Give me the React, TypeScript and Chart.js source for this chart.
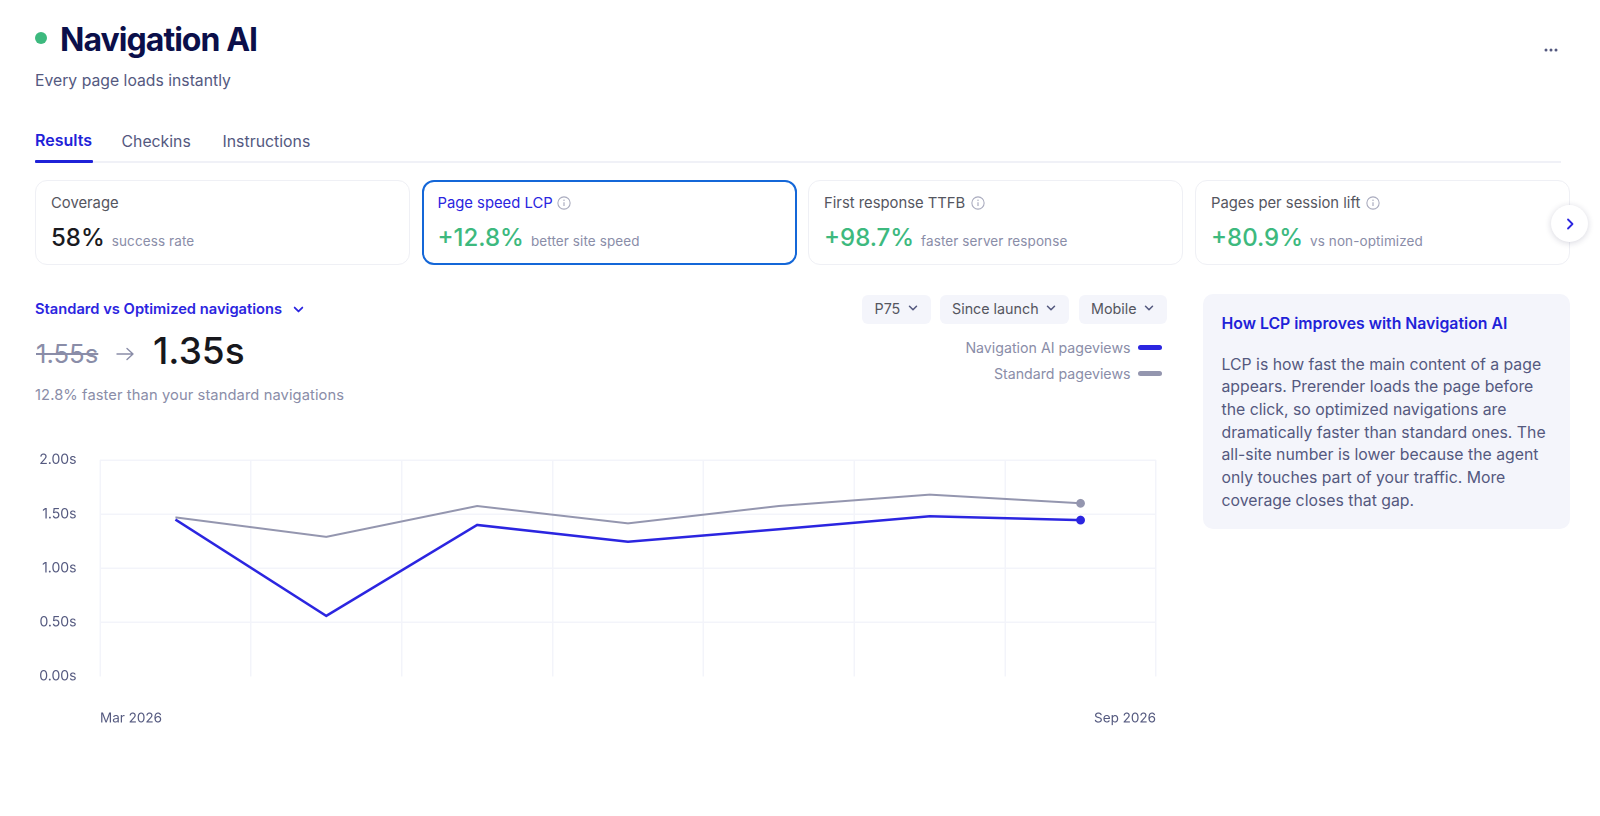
import React, { useEffect, useRef } from "react";
import { Chart, registerables } from "chart.js";

Chart.register(...registerables);

const categories = ["Mar 2026", "Apr 2026", "May 2026", "Jun 2026", "Jul 2026", "Aug 2026", "Sep 2026"];
const edgeLabels = ["Mar 2026", "Sep 2026"];
const optimizedValues = [1.45, 0.56, 1.4, 1.245, 1.36, 1.48, 1.445];
const standardValues = [1.47, 1.29, 1.575, 1.415, 1.575, 1.68, 1.6];
const yTicks = [0, 0.5, 1, 1.5, 2];

const tabs = ["Results", "Checkins", "Instructions"];
const filters = ["P75", "Since launch", "Mobile"];

const cards = [
  { label: "Coverage", value: "58%", note: "success rate", left: 35, active: false, green: false },
  { label: "Page speed LCP", value: "+12.8%", note: "better site speed", left: 421.5, active: true, green: true },
  { label: "First response TTFB", value: "+98.7%", note: "faster server response", left: 808, active: false, green: true },
  { label: "Pages per session lift", value: "+80.9%", note: "vs non-optimized", left: 1195, active: false, green: true },
];

const BLUE = "#2B25E0";
const GREY = "#9496AF";
const GREEN = "#3DB97E";
const NAVY = "#0B0F4A";
const SLATE = "#54597F";
const MUTED = "#8A8DA8";
const GRID = "#F3F4FA";
const FONT = "Inter, sans-serif";

const abs = (left: number, top: number, extra: React.CSSProperties = {}): React.CSSProperties => ({
  position: "absolute",
  left,
  top,
  whiteSpace: "nowrap",
  ...extra,
});

function Chevron({ x, y, size = 10, color = "#54597F", sw = 1.5 }: { x: number; y: number; size?: number; color?: string; sw?: number }) {
  return (
    <svg style={abs(x, y)} width={size} height={size} viewBox="0 0 10 10" fill="none">
      <path d="M1.5 3.2 L5 6.8 L8.5 3.2" stroke={color} strokeWidth={sw} strokeLinecap="round" strokeLinejoin="round" />
    </svg>
  );
}

function Info({ x, y, color }: { x: number; y: number; color: string }) {
  return (
    <svg style={abs(x, y)} width={14} height={14} viewBox="0 0 13 13" fill="none">
      <circle cx="6.5" cy="6.5" r="5.7" stroke={color} strokeWidth="1" />
      <path d="M6.5 5.8 V9.4" stroke={color} strokeWidth="1.1" />
      <circle cx="6.5" cy="3.9" r="0.7" fill={color} />
    </svg>
  );
}

function LineChart() {
  const ref = useRef<HTMLCanvasElement>(null);
  useEffect(() => {
    if (!ref.current) return;
    const lastOnly = (r: number) => categories.map((_, i) => (i === categories.length - 1 ? r : 0));
    const chart = new Chart(ref.current, {
      type: "line",
      data: {
        labels: categories,
        datasets: [
          {
            label: "Standard pageviews",
            data: standardValues,
            borderColor: GREY,
            backgroundColor: GREY,
            borderWidth: 2,
            tension: 0,
            pointRadius: lastOnly(4.4),
            pointBorderWidth: 0,
            xAxisID: "x",
            yAxisID: "y",
          },
          {
            label: "Navigation AI pageviews",
            data: optimizedValues,
            borderColor: BLUE,
            backgroundColor: BLUE,
            borderWidth: 2.5,
            tension: 0,
            pointRadius: lastOnly(4.4),
            pointBorderWidth: 0,
            xAxisID: "x",
            yAxisID: "y",
          },
        ],
      },
      options: {
        responsive: false,
        animation: false,
        devicePixelRatio: 2,
        layout: { padding: { top: 30, right: 24, left: 0, bottom: 0 }, autoPadding: false },
        plugins: { legend: { display: false }, tooltip: { enabled: false } },
        scales: {
          x: {
            type: "category",
            offset: true,
            position: "bottom",
            border: { display: false },
            grid: { color: GRID, lineWidth: 1.5, drawTicks: false, offset: true },
            ticks: { display: false },
          },
          x2: {
            type: "category",
            labels: edgeLabels,
            offset: false,
            position: "bottom",
            border: { display: false },
            grid: { display: false, drawTicks: false },
            ticks: {
              align: "inner",
              color: SLATE,
              maxRotation: 0,
              autoSkip: false,
              padding: 34,
              font: { family: FONT, size: 13.5 },
            },
            afterFit: (s: any) => {
              s.height = 73.5;
              s.paddingLeft = 0;
              s.paddingRight = 0;
            },
          },
          y: {
            min: 0,
            max: 2,
            border: { display: false },
            afterBuildTicks: (s: any) => {
              s.ticks = yTicks.map((value) => ({ value }));
            },
            afterFit: (s: any) => {
              s.width = 100;
              s.paddingTop = 0;
              s.paddingBottom = 0;
            },
            grid: {
              color: (c: any) => (c.tick && c.tick.value === 0 ? "rgba(0,0,0,0)" : GRID),
              lineWidth: 1.5,
              drawTicks: false,
            },
            ticks: {
              color: SLATE,
              padding: 23.5,
              font: { family: FONT, size: 14 },
              callback: (v: any) => `${Number(v).toFixed(2)}s`,
            },
          },
        },
      },
    } as any);
    return () => chart.destroy();
  }, []);
  return <canvas ref={ref} width={1180} height={320} style={{ position: "absolute", left: 0, top: 430, width: 1180, height: 320 }} />;
}

export default function App() {
  return (
    <div style={{ position: "absolute", left: 0, top: 0, width: 1600, height: 816, background: "#fff", fontFamily: FONT, overflow: "hidden" }}>
      <div style={abs(35, 32, { width: 12, height: 12, borderRadius: 6, background: GREEN })} />
      <div style={abs(60, 20, { fontSize: 32, lineHeight: "40px", fontWeight: 700, color: NAVY, letterSpacing: -0.95 })}>Navigation AI</div>
      <div style={abs(35, 70, { fontSize: 15.75, lineHeight: "22px", color: SLATE })}>Every page loads instantly</div>
      <svg style={abs(1543, 44)} width={16} height={12} viewBox="0 0 16 12">
        <circle cx="3" cy="6" r="1.5" fill={SLATE} />
        <circle cx="8" cy="6" r="1.5" fill={SLATE} />
        <circle cx="13" cy="6" r="1.5" fill={SLATE} />
      </svg>

      <div style={abs(35, 129, { fontSize: 16, lineHeight: "22px", fontWeight: 600, color: "#1F22D8" })}>{tabs[0]}</div>
      <div style={abs(121.5, 131, { fontSize: 15.8, lineHeight: "22px", color: SLATE })}>{tabs[1]}</div>
      <div style={abs(222.5, 131, { fontSize: 15.85, lineHeight: "22px", color: SLATE })}>{tabs[2]}</div>
      <div style={abs(35, 161, { width: 1526, height: 2, background: "#F0F1F7" })} />
      <div style={abs(35, 160, { width: 58, height: 3, borderRadius: 1, background: "#1F22D8" })} />

      {cards.map((c) => (
        <div
          key={c.label}
          style={abs(c.left, 180, {
            width: 375,
            height: 85,
            boxSizing: "border-box",
            borderRadius: 12,
            background: "#fff",
            border: c.active ? "2px solid #1467D8" : "1px solid #EFF0F5",
          })}
        />
      ))}
      {cards.map((c) => (
        <React.Fragment key={c.label + "t"}>
          <div style={abs(c.left + 16, 193, { fontSize: 14.8, lineHeight: "20px", color: c.active ? BLUE : "#55565F" })}>{c.label}</div>
          <div style={abs(c.left + 16, 222, { fontSize: 24, lineHeight: "32px", fontWeight: 500, color: c.green ? GREEN : "#1A1A1F", display: "flex", alignItems: "baseline" })}>
            {c.value}
            <span style={{ fontSize: 13.5, fontWeight: 400, color: MUTED, marginLeft: 7, letterSpacing: 0.1 }}>{c.note}</span>
          </div>
        </React.Fragment>
      ))}
      <Info x={557} y={196} color="#A9ABBE" />
      <Info x={970.5} y={196} color="#A9ABBE" />
      <Info x={1365.5} y={196} color="#A9ABBE" />

      <div style={abs(1551, 205, { width: 37, height: 37, borderRadius: 19, background: "#fff", boxShadow: "0 1px 6px rgba(30,30,70,0.18)" })} />
      <svg style={abs(1563.5, 216.5)} width={12} height={14} viewBox="0 0 12 14" fill="none">
        <path d="M4 2.5 L8.5 7 L4 11.5" stroke={BLUE} strokeWidth="1.8" strokeLinecap="round" strokeLinejoin="round" />
      </svg>

      <div style={abs(35, 299, { fontSize: 14.7, lineHeight: "20px", fontWeight: 600, color: BLUE })}>Standard vs Optimized navigations</div>
      <Chevron x={292.5} y={303.5} size={11} color={BLUE} sw={1.6} />

      <div style={abs(36, 337, { fontSize: 25.7, lineHeight: "34px", color: MUTED, textDecoration: "line-through" })}>1.55s</div>
      <svg style={abs(114.5, 346)} width={20} height={16} viewBox="0 0 20 16" fill="none">
        <path d="M2 8 H18 M12 2.5 L18 8 L12 13.5" stroke={MUTED} strokeWidth="1.4" strokeLinecap="round" strokeLinejoin="round" />
      </svg>
      <div style={abs(153, 328, { fontSize: 37, lineHeight: "46px", fontWeight: 500, color: "#17171C" })}>1.35s</div>
      <div style={abs(35, 385, { fontSize: 14.7, lineHeight: "20px", color: MUTED, letterSpacing: 0.1 })}>12.8% faster than your standard navigations</div>

      {[
        { left: 862, width: 69, text: 874.5, chev: 908 },
        { left: 940, width: 129, text: 952, chev: 1046 },
        { left: 1079, width: 88, text: 1091, chev: 1144 },
      ].map((f, i) => (
        <React.Fragment key={filters[i]}>
          <div style={abs(f.left, 295, { width: f.width, height: 28.5, borderRadius: 6, background: "#F4F5FB" })} />
          <div style={abs(f.text, 299, { fontSize: 14.3, lineHeight: "20px", color: "#55565F" })}>{filters[i]}</div>
          <Chevron x={f.chev} y={303} size={10} />
        </React.Fragment>
      ))}

      <div style={abs(0, 338, { width: 1130.5, textAlign: "right", fontSize: 14.2, lineHeight: "20px", color: MUTED })}>Navigation AI pageviews</div>
      <div style={abs(1138, 344.5, { width: 23.5, height: 5, borderRadius: 3, background: BLUE })} />
      <div style={abs(0, 363.5, { width: 1130.5, textAlign: "right", fontSize: 14.2, lineHeight: "20px", color: MUTED })}>Standard pageviews</div>
      <div style={abs(1138, 371, { width: 23.5, height: 5, borderRadius: 3, background: GREY })} />

      <LineChart />

      <div style={abs(1203, 294, { width: 366.5, height: 234.5, borderRadius: 10, background: "#F4F5FB" })} />
      <div style={abs(1221.5, 312.5, { fontSize: 15.8, lineHeight: "22px", fontWeight: 600, color: "#1F22D8" })}>How LCP improves with Navigation AI</div>
      <div style={abs(1221.5, 353.7, { width: 335, whiteSpace: "normal", fontSize: 15.8, lineHeight: "22.65px", color: SLATE })}>
        LCP is how fast the main content of a page appears. Prerender loads the page before the click, so optimized navigations are dramatically faster than standard ones. The all-site number is lower because the agent only touches part of your traffic. More coverage closes that gap.
      </div>
    </div>
  );
}
